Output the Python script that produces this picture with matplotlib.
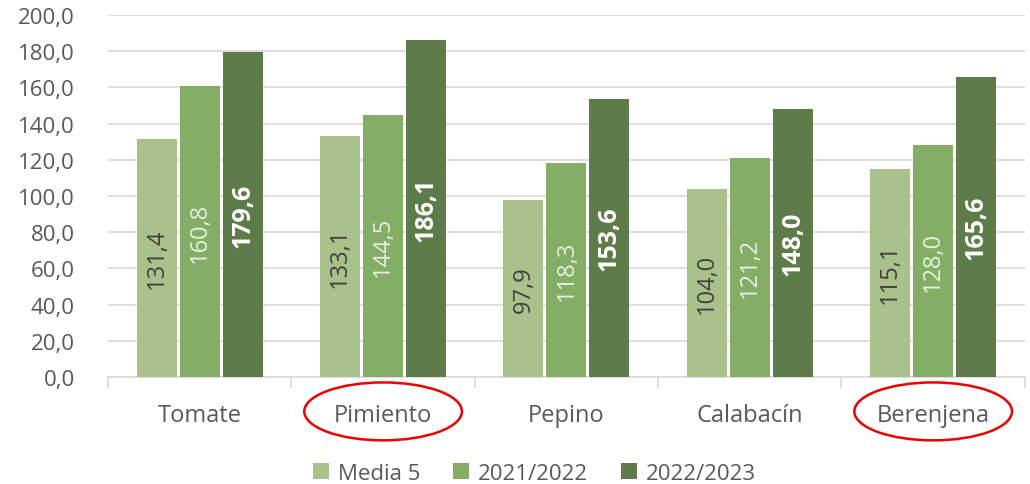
import matplotlib.pyplot as plt
import numpy as np
from matplotlib.patches import Ellipse

categories = ["Tomate", "Pimiento", "Pepino", "Calabacín", "Berenjena"]
series_names = ["Media 5", "2021/2022", "2022/2023"]
media5 = [131.4, 133.1, 97.9, 104.0, 115.1]
y2122 = [160.8, 144.5, 118.3, 121.2, 128.0]
y2223 = [179.6, 186.1, 153.6, 148.0, 165.6]
highlighted = ["Pimiento", "Berenjena"]

colors = ["#A9C28B", "#84AD66", "#5E7C4A"]
label_colors = ["#404040", "#E8F0E0", "#FFFFFF"]
label_weights = ["normal", "normal", "bold"]
label_sizes = [17, 17, 18]

plt.rcParams['font.family'] = ['Open Sans', 'DejaVu Sans']

fig = plt.figure(figsize=(10.3, 4.85), dpi=100)
ax = fig.add_axes([0.1049, 0.2206, 0.8901, 0.7464])

x = np.arange(len(categories))
width = 0.218
step = 0.2345

for i, (vals, name) in enumerate(zip([media5, y2122, y2223], series_names)):
    pos = x + (i - 1) * step
    bars = ax.bar(pos, vals, width, color=colors[i], label=name, zorder=3)
    for b, v in zip(bars, vals):
        ax.text(b.get_x() + b.get_width() / 2, v / 2, f"{v:.1f}".replace(".", ","),
                rotation=90, ha="center", va="center", fontsize=label_sizes[i],
                color=label_colors[i], fontweight=label_weights[i], zorder=4)

ax.set_ylim(0, 200)
ax.set_xlim(-0.5, len(categories) - 0.5)
ax.set_yticks(np.arange(0, 201, 20))
ax.set_yticklabels([f"{t:.1f}".replace(".", ",") for t in np.arange(0, 201, 20)],
                   fontsize=16, color="#595959")
ax.yaxis.grid(True, color="#D9D9D9", lw=1.2, zorder=0)
ax.tick_params(axis="y", length=0, pad=24)

ax.set_xticks(x)
ax.set_xticklabels(categories, fontsize=17, color="#595959")
ax.set_xticks(np.arange(-0.5, len(categories), 1), minor=True)
ax.tick_params(axis="x", which="major", length=0, pad=19)
ax.tick_params(axis="x", which="minor", length=8, color="#D9D9D9", width=1.2)

for s in ["top", "right", "left"]:
    ax.spines[s].set_visible(False)
ax.spines["bottom"].set_color("#D9D9D9")
ax.spines["bottom"].set_linewidth(1.2)

# red ellipses around highlighted categories
trans = ax.get_xaxis_transform()
for name in highlighted:
    idx = categories.index(name)
    e = Ellipse((idx, -0.095), width=0.86, height=0.16, transform=trans,
                fill=False, edgecolor="#EE0000", lw=1.8, clip_on=False)
    ax.add_patch(e)

ax.legend(loc="lower center", bbox_to_anchor=(0.465, -0.35), ncol=3, frameon=False,
          fontsize=16, labelcolor="#595959", handlelength=0.7, handleheight=0.7,
          handletextpad=0.4, columnspacing=1.5)

fig.savefig("out.png", dpi=100, facecolor="white")
